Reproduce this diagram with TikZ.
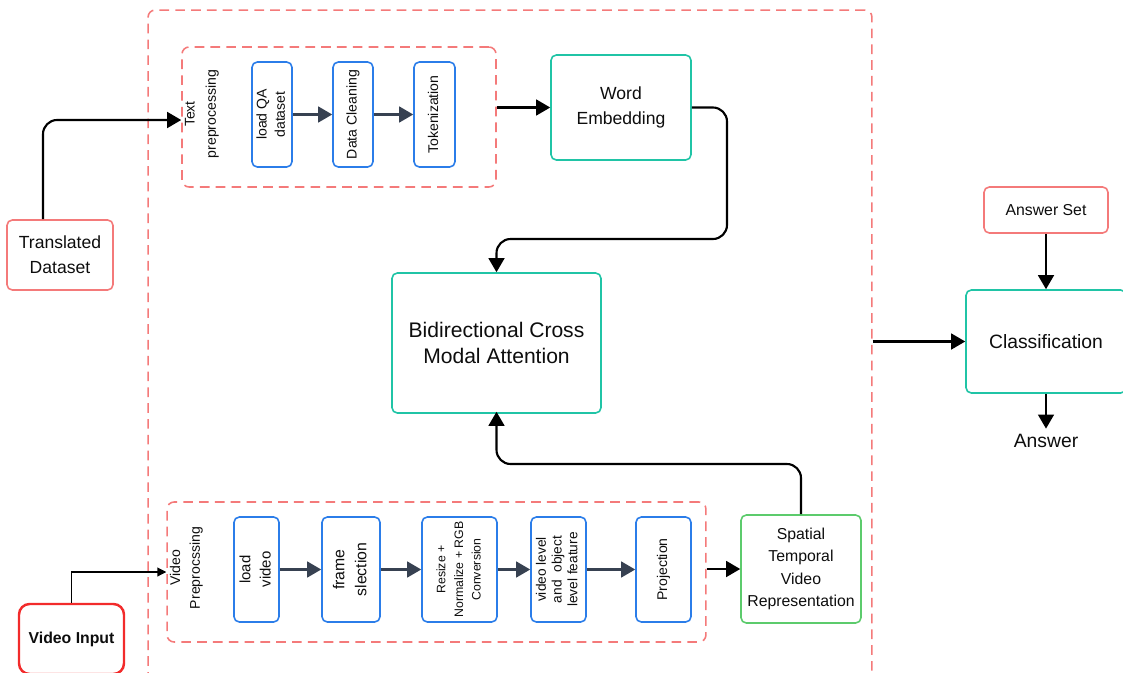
\documentclass[tikz,border=0pt]{standalone}
\usepackage{fontspec}
\setmainfont{Liberation Sans}
\usetikzlibrary{arrows.meta}
\definecolor{dashred}{HTML}{F47A7A}
\definecolor{boxred}{HTML}{F47A7A}
\definecolor{inputred}{HTML}{F22B2B}
\definecolor{stageblue}{HTML}{2B7DE9}
\definecolor{modelteal}{HTML}{20C4A6}
\definecolor{reprgreen}{HTML}{5CCB6C}
\definecolor{arrowgray}{HTML}{374151}
\newcommand{\vlabel}[1]{\rotatebox{90}{\begin{tabular}{@{}c@{}}#1\end{tabular}}}

\begin{document}
\begin{tikzpicture}[x=0.02cm,y=-0.02cm]
\tikzstyle{every node}+=[inner sep=0pt, text=black!95]
\tikzstyle{grp}=[draw=dashred, line width=0.9pt, dash pattern=on 5.5pt off 3.5pt, rounded corners=4pt]
\tikzstyle{stage}=[draw=stageblue, line width=0.9pt, rounded corners=3pt, minimum height=2.1cm, font=\fontsize{8}{10.4}\selectfont]
\tikzstyle{tealbox}=[draw=modelteal, line width=0.9pt, rounded corners=3pt, align=center]
\tikzstyle{redbox}=[draw=boxred, line width=0.9pt, rounded corners=3pt, align=center]
\tikzstyle{greenbox}=[draw=reprgreen, line width=0.9pt, rounded corners=3pt, align=center]
\tikzstyle{vidbox}=[draw=inputred, line width=1.4pt, rounded corners=6pt, align=center]
\tikzstyle{flow}=[line width=1.2pt, rounded corners=8pt, -{Triangle[length=8pt,width=9pt]}]
\tikzstyle{thinflow}=[line width=0.6pt, -{Triangle[length=5pt,width=5pt]}]
\tikzstyle{stagearrow}=[draw=arrowgray, line width=1.2pt, -{Triangle[length=8pt,width=9pt]}]
\clip (0,0) rectangle (1123,673);
% outer frame
\node[grp, minimum width=14.48cm, minimum height=13.8cm] (outer) at (510,355) {};
% text branch
\node[grp, minimum width=6.28cm, minimum height=2.8cm] (textgrp) at (339,117) {};
\node[font=\fontsize{8}{12}\selectfont] (textlbl) at (201,114) {\vlabel{Text\\preprocessing}};
\node[stage, minimum width=0.8cm] (loadqa) at (272,114.5) {\vlabel{load QA\\dataset}};
\node[stage, minimum width=0.8cm] (clean) at (353,114.5) {\vlabel{Data Cleaning}};
\node[stage, minimum width=0.82cm] (token) at (434.5,114.5) {\vlabel{Tokenization}};
\foreach \a/\b in {loadqa/clean, clean/token}
  \draw[stagearrow] (\a) -- (\b);
\node[tealbox, minimum width=2.8cm, minimum height=2.1cm, font=\fontsize{10}{14}\selectfont] (embed) at (621,107.5) {Word\\Embedding};
\draw[flow] (textgrp.east |- embed.west) -- (embed.west);
\node[redbox, minimum width=2.12cm, minimum height=1.4cm, font=\fontsize{10}{14}\selectfont] (transl) at (60,255) {Translated\\Dataset};
\draw[flow] ([xshift=-0.34cm]transl.north) |- ([yshift=-0.06cm]textgrp.west);
% fusion
\node[tealbox, minimum width=4.18cm, minimum height=2.8cm, font=\fontsize{12}{14.7}\selectfont] (bcma) at (496.5,343) {Bidirectional Cross\\Modal Attention};
\coordinate (turn) at (727,239);
\draw[flow] (embed.east) -| (turn) -| (bcma.north);
% video branch
\node[grp, minimum width=10.78cm, minimum height=2.8cm] (vidgrp) at (436.5,572) {};
\node[font=\fontsize{8}{11.3}\selectfont] (vidlbl) at (186,568) {\vlabel{Video\\Preprocssing}};
\node[stage, minimum width=0.9cm, font=\fontsize{8.5}{11.5}\selectfont] (loadvid) at (256.5,569.5) {\vlabel{load\\video}};
\node[stage, minimum width=1.16cm, font=\fontsize{9}{12.5}\selectfont] (frame) at (351,569.5) {\vlabel{frame\\slection}};
\node[stage, minimum width=1.5cm, font=\fontsize{7}{10}\selectfont] (resize) at (459.5,569.5) {\vlabel{Resize +\\Normalize + RGB\\Conversion}};
\node[stage, minimum width=1.1cm, font=\fontsize{7.8}{9}\selectfont] (feat) at (558.5,569.5) {\vlabel{video level\\and\ \ object\\level feature}};
\node[stage, minimum width=1.1cm] (proj) at (663.5,569.5) {\vlabel{Projection}};
\foreach \a/\b in {loadvid/frame, frame/resize, resize/feat, feat/proj}
  \draw[stagearrow] (\a) -- (\b);
\node[greenbox, minimum width=2.4cm, minimum height=2.16cm, font=\fontsize{9}{12.7}\selectfont] (stvr) at (801,569) {Spatial\\Temporal\\Video\\Representation};
\draw[flow] (vidgrp.east |- stvr.west) -- (stvr.west);
\coordinate (mid) at (650,464);
\draw[flow] (stvr.north) |- (mid) -| ([yshift=0.04cm]bcma.south);
\node[vidbox, minimum width=2.1cm, minimum height=1.4cm, font=\bfseries\fontsize{9}{11}\selectfont] (vidin) at (71.5,639) {Video Input};
\draw[thinflow] (vidin.north) |- (vidgrp.west);
% answer side
\node[tealbox, minimum width=3.2cm, minimum height=2.06cm, font=\fontsize{11}{13}\selectfont] (cls) at (1046,341.5) {Classification};
\node[redbox, minimum width=2.48cm, minimum height=0.92cm, font=\fontsize{9}{11}\selectfont] (ansset) at (1046,210) {Answer Set};
\node[inner sep=3pt, font=\fontsize{11}{13}\selectfont] (answer) at (1046,441) {Answer};
\draw[flow] (ansset) -- (cls);
\draw[flow] (cls) -- (answer);
\draw[flow] (outer.east |- cls.west) -- (cls.west);
\end{tikzpicture}
\end{document}
